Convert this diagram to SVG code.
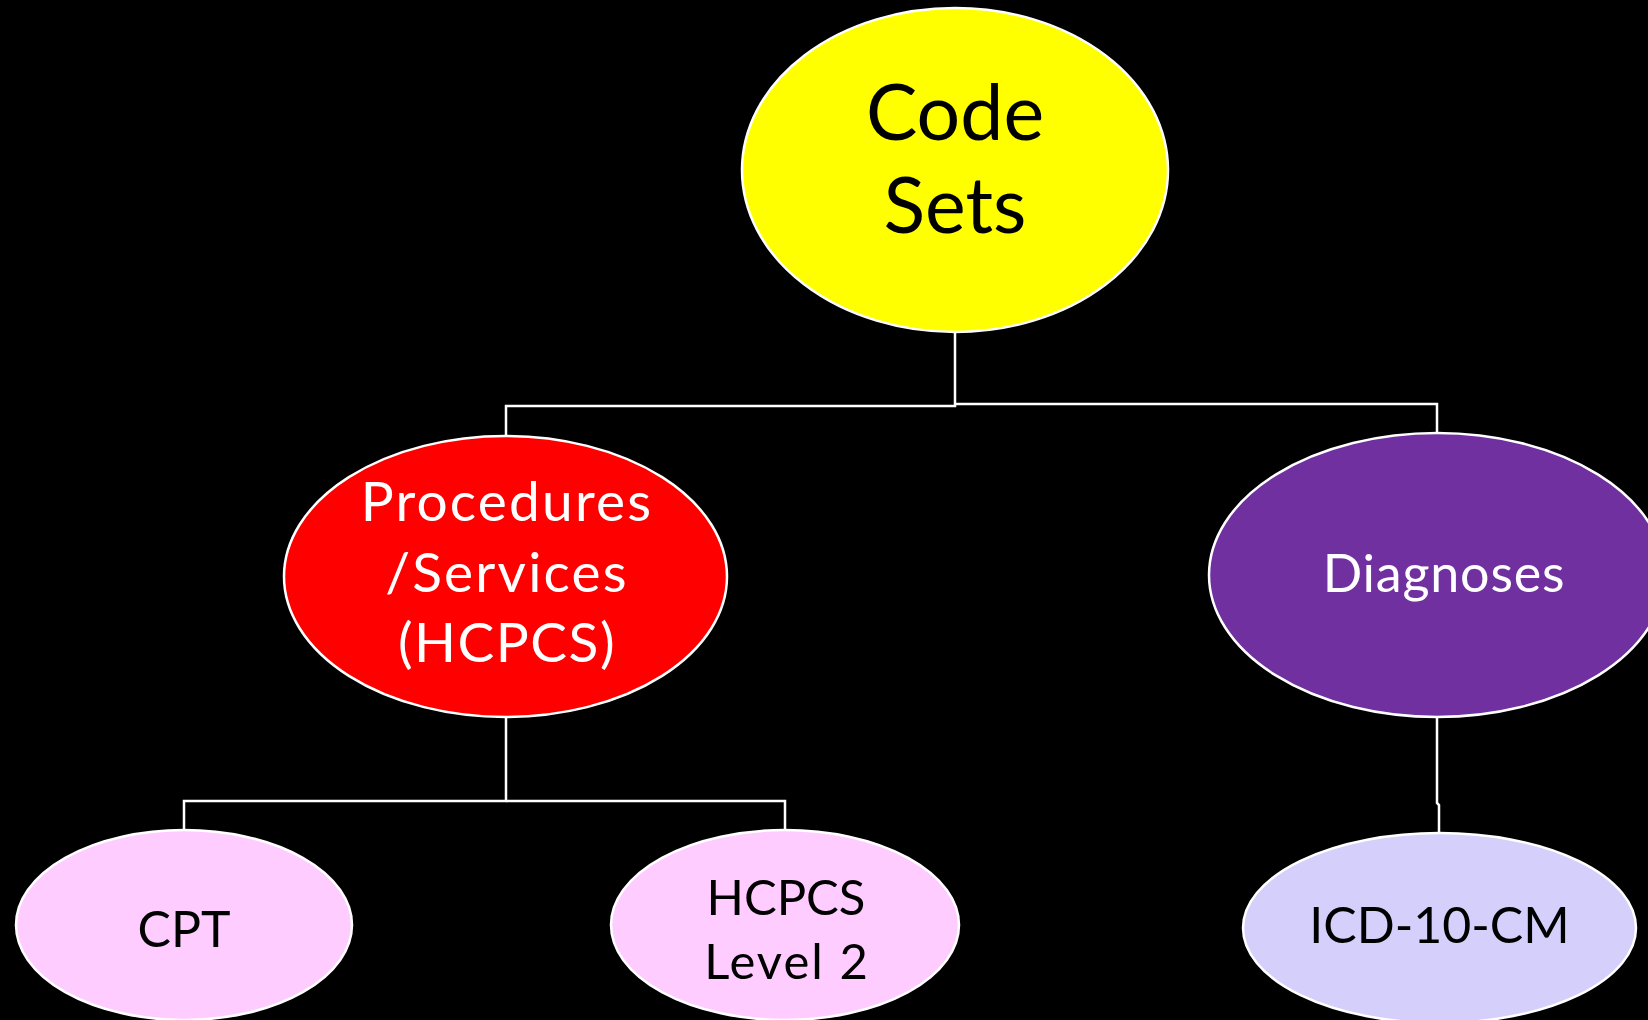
<svg xmlns="http://www.w3.org/2000/svg" width="1648" height="1020" viewBox="0 0 1648 1020">
  <style>
    .node { stroke: #ffffff; stroke-width: 2.5; }
    .link { fill: none; stroke: #ffffff; stroke-width: 2.5; }
    text { font-family: Lato, "Open Sans", "Liberation Sans", sans-serif; text-anchor: middle; }
    .dark { fill: #000000; }
    .light { fill: #ffffff; }
  </style>
  <rect x="0" y="0" width="1648" height="1020" fill="#000000"/>

  <g id="connectors">
    <polyline class="link" points="955,332 955,406 506,406 506,436"/>
    <polyline class="link" points="955,404 1437,404 1437,434"/>
    <polyline class="link" points="506,717 506,801 184,801 184,830"/>
    <polyline class="link" points="506,801 785,801 785,830"/>
    <polyline class="link" points="1437,717 1437,803 1439,805 1439,833"/>
  </g>

  <g id="code-sets">
    <ellipse class="node" cx="955" cy="170" rx="213" ry="162" fill="#ffff00"/>
    <text class="dark" x="955" y="140" font-size="77">Code</text>
    <text class="dark" x="955" y="233" font-size="77">Sets</text>
  </g>

  <g id="procedures">
    <ellipse class="node" cx="505.5" cy="576.5" rx="221.5" ry="140.5" fill="#ff0000"/>
    <text class="light" x="507" y="521" font-size="55" letter-spacing="2.2">Procedures</text>
    <text class="light" x="507" y="592" font-size="55" letter-spacing="2.2">/Services</text>
    <text class="light" x="507" y="662" font-size="55" letter-spacing="1.5">(HCPCS)</text>
  </g>

  <g id="diagnoses">
    <ellipse class="node" cx="1437" cy="575" rx="228" ry="142" fill="#7030a0"/>
    <text class="light" x="1444" y="592" font-size="52" letter-spacing="0.8">Diagnoses</text>
  </g>

  <g id="cpt">
    <ellipse class="node" cx="184" cy="925" rx="168" ry="95" fill="#ffccff"/>
    <text class="dark" x="184" y="947" font-size="50">CPT</text>
  </g>

  <g id="hcpcs-level-2">
    <ellipse class="node" cx="785" cy="925" rx="174" ry="95" fill="#ffccff"/>
    <text class="dark" x="786" y="915" font-size="49">HCPCS</text>
    <text class="dark" x="787" y="979" font-size="49" letter-spacing="2">Level 2</text>
  </g>

  <g id="icd-10-cm">
    <ellipse class="node" cx="1439.5" cy="928" rx="196.5" ry="95" fill="#d5d0fb"/>
    <text class="dark" x="1439.5" y="943" font-size="50">ICD-10-CM</text>
  </g>
</svg>
